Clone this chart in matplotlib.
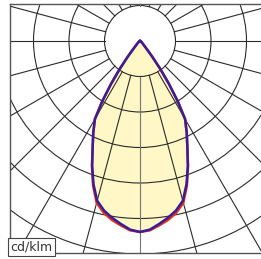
import numpy as np
import matplotlib.pyplot as plt
from matplotlib.patches import Circle

# luminous intensity (cd/klm) against gamma angle, symmetric about nadir
gamma = [0, 3, 6, 9, 12, 15, 18, 21, 24, 27, 30, 32, 34, 36, 38, 40, 45, 60, 90]
i_c90 = [269, 266, 259, 252, 244, 233, 212, 188, 164, 145, 127, 101, 73, 48, 28, 15, 6, 2, 0]
i_c0 = [269, 267, 261, 255, 247, 236, 214, 189, 164, 145, 127, 101, 73, 48, 28, 15, 6, 2, 0]
ring_step = 50
unit_label = "cd/klm"

px = ring_step / 35.5  # data units per pixel

fig = plt.figure(figsize=(2.61, 2.59), dpi=100)
ax = fig.add_axes([10 / 261, 6 / 259, 260 / 261, 249 / 259])
ax.set_xlim(-130 * px, 130 * px)
ax.set_ylim(-212 * px, 37 * px)
ax.set_xticks([])
ax.set_yticks([])
for sp in ax.spines.values():
    sp.set_color("#555555")
    sp.set_linewidth(1.0)

def curve(vals):
    g = np.radians(np.r_[-np.array(gamma[::-1]), np.array(gamma[1:])])
    r = np.r_[np.array(vals[::-1]), np.array(vals[1:])]
    return r * np.sin(g), -r * np.cos(g)

# fill
x, y = curve(i_c90)
ax.fill(x, y, color="#fff7c6", zorder=1, lw=0)

# rings
for k in range(1, 12):
    ax.add_patch(Circle((0, 0), k * ring_step, fill=False, ec="#2b2b2b", lw=0.8, zorder=2))

# radial lines
for a in range(0, 360, 15):
    t = np.radians(a)
    col = "#777777" if a in (0, 180) else "#2b2b2b"
    ax.plot([ring_step * np.sin(t), 900 * np.sin(t)], [-ring_step * np.cos(t), -900 * np.cos(t)],
            color=col, lw=0.8, zorder=2)

# curves
xr, yr = curve(i_c0)
ax.plot(xr, yr, color="#e8341c", lw=1.8, zorder=3)
ax.plot(x, y, color="#3a1d96", lw=1.8, zorder=4)

ax.text(0.0, 0.0, unit_label, transform=ax.transAxes, fontsize=9, color="#333333",
        ha="left", va="bottom", zorder=5,
        bbox=dict(boxstyle="square,pad=0.2", fc="white", ec="#444444", lw=0.8))

fig.savefig("out.png", dpi=100)
